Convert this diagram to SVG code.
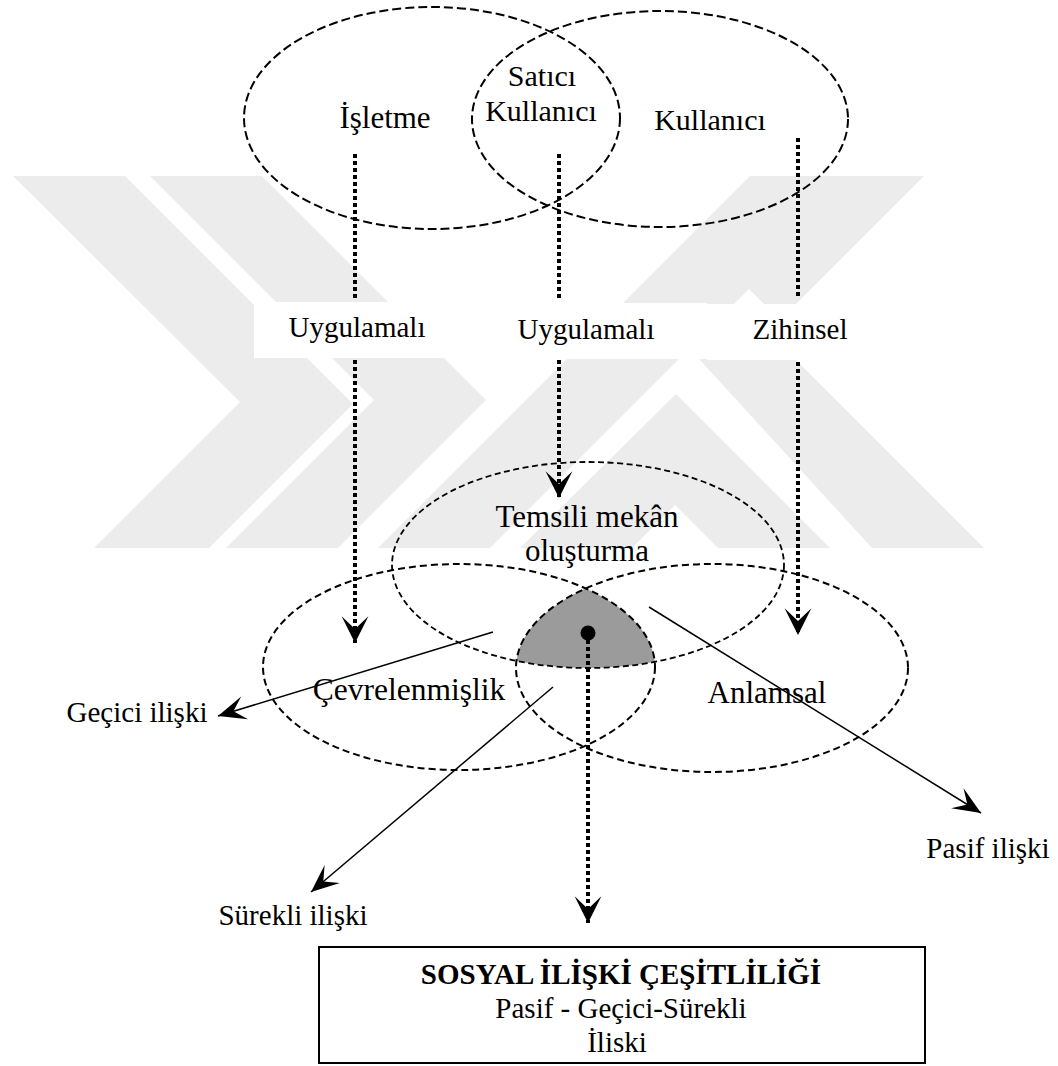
<svg xmlns="http://www.w3.org/2000/svg" width="1058" height="1066" viewBox="0 0 1058 1066">
<style>
.t{font-family:"Liberation Serif","Times New Roman",serif;fill:#000;text-anchor:middle}
.ell{fill:none;stroke:#000;stroke-width:2;stroke-dasharray:7 4}
.ellt{fill:none;stroke:#000;stroke-width:2;stroke-dasharray:9 4}
.ellm{fill:none;stroke:#000;stroke-width:1.8;stroke-dasharray:6 3.5}
.dot{fill:none;stroke:#000;stroke-width:4;stroke-dasharray:4 3}
.sol{fill:none;stroke:#000;stroke-width:1.5}
.wm{fill:#ececec}
</style>
<defs>
<marker id="ah" markerUnits="userSpaceOnUse" markerWidth="30" markerHeight="30" viewBox="-26 -14 28 28" refX="0" refY="0" orient="auto">
<path d="M0,0 L-25,-12.5 L-13,0 L-25,12.5 Z" fill="#000"/>
</marker>
<marker id="as" markerUnits="userSpaceOnUse" markerWidth="30" markerHeight="30" viewBox="-26 -14 28 28" refX="0" refY="0" orient="auto">
<path d="M0,0 L-26,-11 L-15,0 L-26,11 Z" fill="#000"/>
</marker>
<clipPath id="cC"><ellipse cx="459" cy="667" rx="196" ry="103"/></clipPath>
<clipPath id="cA"><ellipse cx="712" cy="668" rx="196" ry="104"/></clipPath>
</defs>
<rect width="1058" height="1066" fill="#fff"/>
<g id="watermark">
<polygon class="wm" points="13,176 125,176 353,404 209,548 94,548 240,402"/>
<polygon class="wm" points="150,176 262,176 486,400 338,548 226,548 374,400"/>
<polygon class="wm" points="378,548 490,548 862,176 750,176"/>
<polygon class="wm" points="520,548 632,548 675,505 718,548 830,548 676,394"/>
<polygon class="wm" points="700,360 748,312 984,548 872,548"/>
<polygon class="wm" points="810,176 924,176 780,320 724,264"/>
<rect x="254" y="302" width="203" height="56" fill="#fff"/>
<rect x="457" y="303" width="250" height="56" fill="#fff"/>
<rect x="707" y="304" width="180" height="56" fill="#fff"/>
</g>
<g id="n-isletme">
<ellipse class="ellt" cx="432" cy="118" rx="188" ry="111"/>
<text class="t" x="385" y="128" font-size="31">İşletme</text>
</g>
<g id="n-kullanici">
<ellipse class="ellt" cx="660" cy="119" rx="188" ry="108"/>
<text class="t" x="710" y="130" font-size="30">Kullanıcı</text>
</g>
<g id="n-satici">
<text class="t" x="542" y="86" font-size="30">Satıcı</text>
<text class="t" x="541" y="121" font-size="30">Kullanıcı</text>
</g>
<g id="n-shared">
<g clip-path="url(#cC)"><ellipse cx="588" cy="565" rx="196" ry="103" fill="#9b9b9b" clip-path="url(#cA)"/></g>
</g>
<g id="n-temsili">
<ellipse class="ellm" cx="588" cy="565" rx="196" ry="103"/>
<text class="t" x="587" y="527" font-size="31">Temsili mekân</text>
<text class="t" x="587" y="561" font-size="31">oluşturma</text>
</g>
<g id="n-cevrel">
<ellipse class="ell" cx="459" cy="667" rx="196" ry="103"/>
<text class="t" x="409" y="700" font-size="31.5">Çevrelenmişlik</text>
</g>
<g id="n-anlamsal">
<ellipse class="ell" cx="712" cy="668" rx="196" ry="104"/>
<text class="t" x="767" y="703" font-size="31">Anlamsal</text>
</g>
<g id="labels">
<text class="t" x="357" y="337" font-size="29">Uygulamalı</text>
<text class="t" x="586" y="339" font-size="29">Uygulamalı</text>
<text class="t" x="800" y="339" font-size="29">Zihinsel</text>
<text class="t" x="137" y="722" font-size="29">Geçici ilişki</text>
<text class="t" x="293" y="925" font-size="29">Sürekli ilişki</text>
<text class="t" x="988" y="858" font-size="29">Pasif ilişki</text>
</g>
<g id="connectors">
<line class="dot" x1="355" y1="154" x2="355" y2="299"/>
<line class="dot" x1="355" y1="360" x2="355" y2="643" marker-end="url(#ah)"/>
<line class="dot" x1="559" y1="154" x2="559" y2="299"/>
<line class="dot" x1="559" y1="360" x2="559" y2="498" marker-end="url(#ah)"/>
<line class="dot" x1="798" y1="138" x2="798" y2="299"/>
<line class="dot" x1="798" y1="362" x2="798" y2="635" marker-end="url(#ah)"/>
<circle cx="588" cy="633" r="7.5" fill="#000"/>
<line class="dot" x1="588" y1="640" x2="588" y2="923" marker-end="url(#ah)"/>
<line class="sol" x1="493" y1="632" x2="218" y2="716" marker-end="url(#as)"/>
<line class="sol" x1="553" y1="687" x2="311" y2="892" marker-end="url(#as)"/>
<line class="sol" x1="649" y1="607" x2="981" y2="813" marker-end="url(#as)"/>
</g>
<g id="n-result">
<rect x="319" y="947" width="606" height="116" fill="#fff" stroke="#000" stroke-width="2"/>
<text class="t" x="621" y="984" font-size="29" font-weight="bold">SOSYAL İLİŞKİ ÇEŞİTLİLİĞİ</text>
<text class="t" x="621" y="1018" font-size="29">Pasif - Geçici-Sürekli</text>
<text class="t" x="617" y="1052" font-size="29">İliski</text>
</g>
</svg>
